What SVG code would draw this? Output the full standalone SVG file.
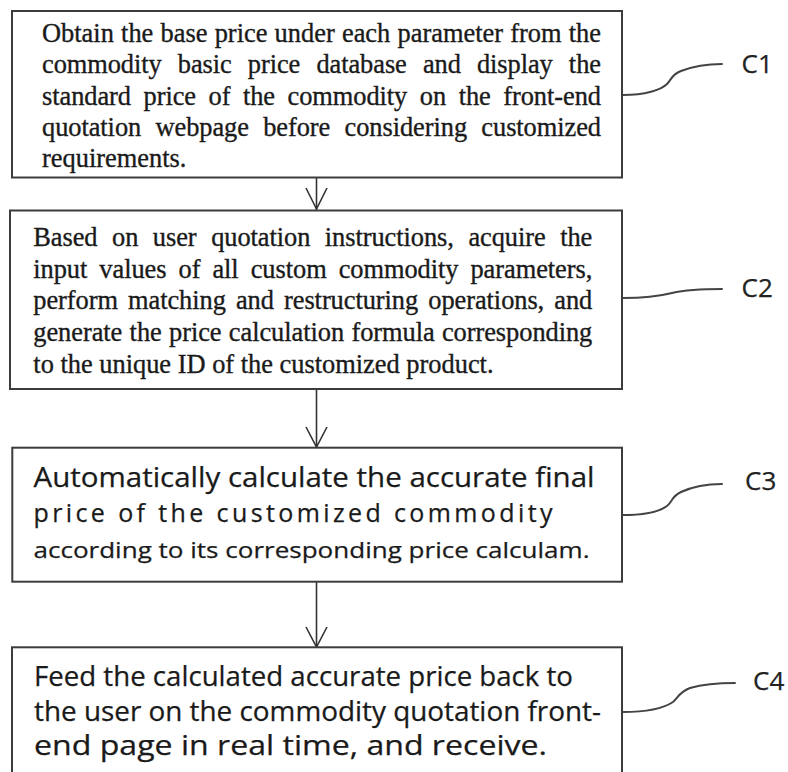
<svg xmlns="http://www.w3.org/2000/svg" width="788" height="772" viewBox="0 0 788 772">
  <style>
    .box { fill: #ffffff; stroke: #3c3c3c; stroke-width: 2; }
    .serif { font-family: "Liberation Serif", "Times New Roman", serif; font-size: 26.4px; fill: #1a1a1a; stroke: #1a1a1a; stroke-width: 0.35; }
    .sans { font-family: "Open Sans", "Noto Sans", sans-serif; fill: #1a1a1a; stroke: #1a1a1a; stroke-width: 0.25; }
    .tag { font-family: "Open Sans", "Noto Sans", sans-serif; font-size: 26px; fill: #222222; stroke: #222222; stroke-width: 0.25; }
    .flow { fill: none; stroke: #333333; stroke-width: 1.6; }
    .lead { fill: none; stroke: #444444; stroke-width: 2; stroke-linecap: round; }
  </style>

  <rect width="788" height="772" fill="#ffffff"/>

  <g id="connectors">
    <path class="flow" d="M316.5,178 V210"/>
    <path class="flow" d="M316.5,389 V447"/>
    <path class="flow" d="M316.5,582 V647"/>
    <path d="M306,188 L316.5,209 L327,188" class="flow"/>
    <path d="M306,427 L316.5,447 L327,427" class="flow"/>
    <path d="M306,627 L316.5,647 L327,627" class="flow"/>
    <!-- leader lines to step tags -->
    <path class="lead" d="M623,95 C645,95 661,90 667,84 C672,79 671,75 681,71 C694,66 708,64 722,64"/>
    <path class="lead" d="M623,298 C645,298 660,296 672,293 C685,290 700,289 722,289"/>
    <path class="lead" d="M623,515 C645,515 660,511 667,506 C673,501 671,497 681,492 C694,486 708,484 722,484"/>
    <path class="lead" d="M623,712 C648,712 664,708 673,702 C679,697 678,693 690,688 C704,684 718,683 735,683"/>
  </g>

  <g id="C1">
    <rect class="box" x="12" y="11" width="610" height="166.5"/>
    <text class="serif">
      <tspan x="42" y="42.3" word-spacing="0.6" textLength="559" lengthAdjust="spacing">Obtain the base price under each parameter from the</tspan>
      <tspan x="42" y="73.4" word-spacing="9.6" textLength="559" lengthAdjust="spacing">commodity basic price database and display the</tspan>
      <tspan x="42" y="104.5" word-spacing="6" textLength="559" lengthAdjust="spacing">standard price of the commodity on the front-end</tspan>
      <tspan x="42" y="135.6" word-spacing="7.8" textLength="559" lengthAdjust="spacing">quotation webpage before considering customized</tspan>
      <tspan x="42" y="166.7">requirements.</tspan>
    </text>
    <text class="tag" x="741.5" y="73.3">C1</text>
  </g>

  <g id="C2">
    <rect class="box" x="10" y="210.5" width="612" height="178.5"/>
    <text class="serif">
      <tspan x="33.3" y="246" word-spacing="8" textLength="559" lengthAdjust="spacing">Based on user quotation instructions, acquire the</tspan>
      <tspan x="33.3" y="277.7" word-spacing="5.5" textLength="559" lengthAdjust="spacing">input values of all custom commodity parameters,</tspan>
      <tspan x="33.3" y="309.3" word-spacing="3.6" textLength="559" lengthAdjust="spacing">perform matching and restructuring operations, and</tspan>
      <tspan x="33.3" y="341" word-spacing="0.8" textLength="559" lengthAdjust="spacing">generate the price calculation formula corresponding</tspan>
      <tspan x="33.3" y="372.7">to the unique ID of the customized product.</tspan>
    </text>
    <text class="tag" x="741.5" y="296.7">C2</text>
  </g>

  <g id="C3">
    <rect class="box" x="12.3" y="447.7" width="609.7" height="134"/>
    <text class="sans" x="33.5" y="487.3" font-size="26.5" textLength="561" lengthAdjust="spacingAndGlyphs">Automatically calculate the accurate final</text>
    <text class="sans" x="33.5" y="521.7" font-size="25" textLength="519" lengthAdjust="spacing">price of the customized commodity</text>
    <text class="sans" x="33.5" y="558" font-size="22.5" textLength="556" lengthAdjust="spacingAndGlyphs">according to its corresponding price calculam.</text>
    <text class="tag" x="745" y="490">C3</text>
  </g>

  <g id="C4">
    <rect class="box" x="12" y="647.3" width="610" height="140"/>
    <text class="sans" x="34" y="686" font-size="26.5" textLength="539" lengthAdjust="spacingAndGlyphs">Feed the calculated accurate price back to</text>
    <text class="sans" x="34" y="720.7" font-size="26.5" textLength="567" lengthAdjust="spacingAndGlyphs">the user on the commodity quotation front-</text>
    <text class="sans" x="34" y="755.3" font-size="26.5" textLength="513" lengthAdjust="spacingAndGlyphs">end page in real time, and receive.</text>
    <text class="tag" x="753" y="690">C4</text>
  </g>
</svg>
